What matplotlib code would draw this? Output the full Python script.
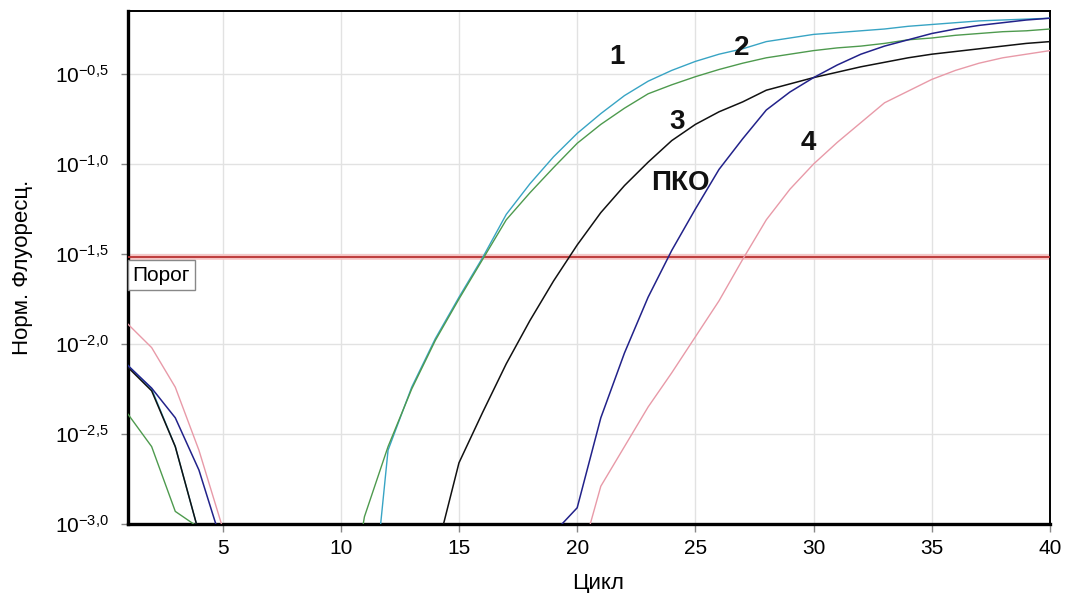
import numpy as np
import matplotlib
matplotlib.use('Agg')
import matplotlib.pyplot as plt
from matplotlib.ticker import FixedLocator, FixedFormatter, NullLocator

nan = float('nan')
cycles = list(range(1, 41))

# log10 of normalized fluorescence per cycle (nan = not shown / below scale)
lg_curve1 = [-2.12, -2.25, -2.57, -3.05, nan, nan, nan, nan, nan, nan,
             -3.90, -2.59, -2.24, -1.97, -1.74, -1.52, -1.28, -1.11, -0.96, -0.83,
             -0.72, -0.62, -0.54, -0.48, -0.43, -0.39, -0.36, -0.32, -0.30, -0.28,
             -0.27, -0.26, -0.25, -0.235, -0.225, -0.215, -0.205, -0.20, -0.195, -0.19]
lg_curve2 = [-2.39, -2.57, -2.93, -3.02, nan, nan, nan, nan, nan, -3.76,
             -2.96, -2.57, -2.25, -1.98, -1.75, -1.53, -1.31, -1.16, -1.02, -0.885,
             -0.78, -0.69, -0.61, -0.56, -0.515, -0.475, -0.44, -0.41, -0.39, -0.37,
             -0.355, -0.345, -0.33, -0.31, -0.30, -0.285, -0.275, -0.265, -0.26, -0.25]
lg_curve3 = [-2.13, -2.26, -2.57, -3.05, nan, nan, nan, nan, nan, nan,
             nan, nan, nan, -3.18, -2.66, -2.38, -2.11, -1.87, -1.65, -1.45,
             -1.27, -1.12, -0.99, -0.87, -0.78, -0.71, -0.655, -0.59, -0.555, -0.52,
             -0.49, -0.46, -0.435, -0.41, -0.39, -0.375, -0.36, -0.345, -0.33, -0.32]
lg_pko = [-2.12, -2.245, -2.41, -2.70, -3.12, nan, nan, nan, nan, nan,
          nan, nan, nan, nan, nan, nan, nan, nan, -3.05, -2.91,
          -2.41, -2.05, -1.74, -1.48, -1.25, -1.03, -0.86, -0.70, -0.60, -0.52,
          -0.45, -0.39, -0.345, -0.31, -0.275, -0.25, -0.23, -0.215, -0.20, -0.19]
lg_curve4 = [-1.89, -2.02, -2.24, -2.59, -3.02, nan, nan, nan, nan, nan,
             nan, nan, nan, nan, nan, nan, nan, nan, nan, -3.26,
             -2.79, -2.57, -2.35, -2.16, -1.96, -1.76, -1.53, -1.31, -1.14, -1.0,
             -0.88, -0.77, -0.66, -0.595, -0.53, -0.48, -0.44, -0.41, -0.39, -0.37]
lg_threshold = -1.515

x_ticks = [5, 10, 15, 20, 25, 30, 35, 40]
y_tick_exps = [-3.0, -2.5, -2.0, -1.5, -1.0, -0.5]
y_tick_labels = [r'$\mathregular{10^{-3{,}0}}$', r'$\mathregular{10^{-2{,}5}}$',
                 r'$\mathregular{10^{-2{,}0}}$', r'$\mathregular{10^{-1{,}5}}$',
                 r'$\mathregular{10^{-1{,}0}}$', r'$\mathregular{10^{-0{,}5}}$']

curve_labels = ['1', '2', '3', '4', 'ПКО']
label_x = [21.67, 26.96, 24.21, 29.78, 24.35]
label_lg = [-0.404, -0.357, -0.765, -0.885, -1.107]

plt.rcParams['font.family'] = ['Liberation Sans', 'DejaVu Sans']
plt.rcParams['mathtext.fontset'] = 'custom'
plt.rcParams['mathtext.rm'] = 'Liberation Sans'

fig = plt.figure(figsize=(10.65, 5.93), dpi=100)
ax = fig.add_axes([128/1065, 69/593, 922/1065, 513/593])

def pw(v):
    return np.power(10.0, np.array(v, dtype=float))

ax.axhline(10**lg_threshold, color='#f7c4c4', lw=4.0, zorder=2)
ax.axhline(10**lg_threshold, color='#b83232', lw=1.3, zorder=3)

ax.plot(cycles, pw(lg_curve1), color='#38a4c4', lw=1.0, zorder=4)
ax.plot(cycles, pw(lg_curve2), color='#4e9a4e', lw=1.0, zorder=4)
ax.plot(cycles, pw(lg_curve4), color='#e89aa8', lw=1.0, zorder=4)
ax.plot(cycles, pw(lg_curve3), color='#111111', lw=1.1, zorder=5)
ax.plot(cycles, pw(lg_pko), color='#22228a', lw=1.1, zorder=5)

for t, x, y in zip(curve_labels, label_x, label_lg):
    ax.text(x, 10**y, t, fontsize=20, fontweight='bold', ha='center', va='center',
            color='#111111', zorder=6)

ax.text(1.2, 10**(lg_threshold - 0.05), 'Порог', fontsize=15, ha='left', va='top',
        zorder=6, bbox=dict(boxstyle='square,pad=0.25', fc='white', ec='#888888', lw=1))

ax.set_yscale('log')
ax.set_xlim(1, 40)
ax.set_ylim(10**-3.0, 10**-0.15)
ax.xaxis.set_major_locator(FixedLocator(x_ticks))
ax.yaxis.set_major_locator(FixedLocator([10**e for e in y_tick_exps]))
ax.yaxis.set_major_formatter(FixedFormatter(y_tick_labels))
ax.yaxis.set_minor_locator(NullLocator())
ax.xaxis.set_minor_locator(NullLocator())
ax.grid(True, color='#e2e2e2', lw=1.0, zorder=0)
ax.set_axisbelow(True)

ax.tick_params(axis='x', length=6, width=1, color='#888888', labelsize=15, pad=5)
ax.tick_params(axis='y', length=5, width=1, color='#888888', labelsize=15, pad=9)

for s in ['left', 'bottom']:
    ax.spines[s].set_linewidth(2.4)
for s in ['top', 'right']:
    ax.spines[s].set_linewidth(1.4)

ax.set_xlabel('Цикл', fontsize=16, labelpad=2)
ax.xaxis.set_label_coords(0.51, -0.095)
ax.set_ylabel('Норм. Флуоресц.', fontsize=16)
ax.yaxis.set_label_coords(-0.103, 0.50)

fig.savefig('out.png', dpi=100)
